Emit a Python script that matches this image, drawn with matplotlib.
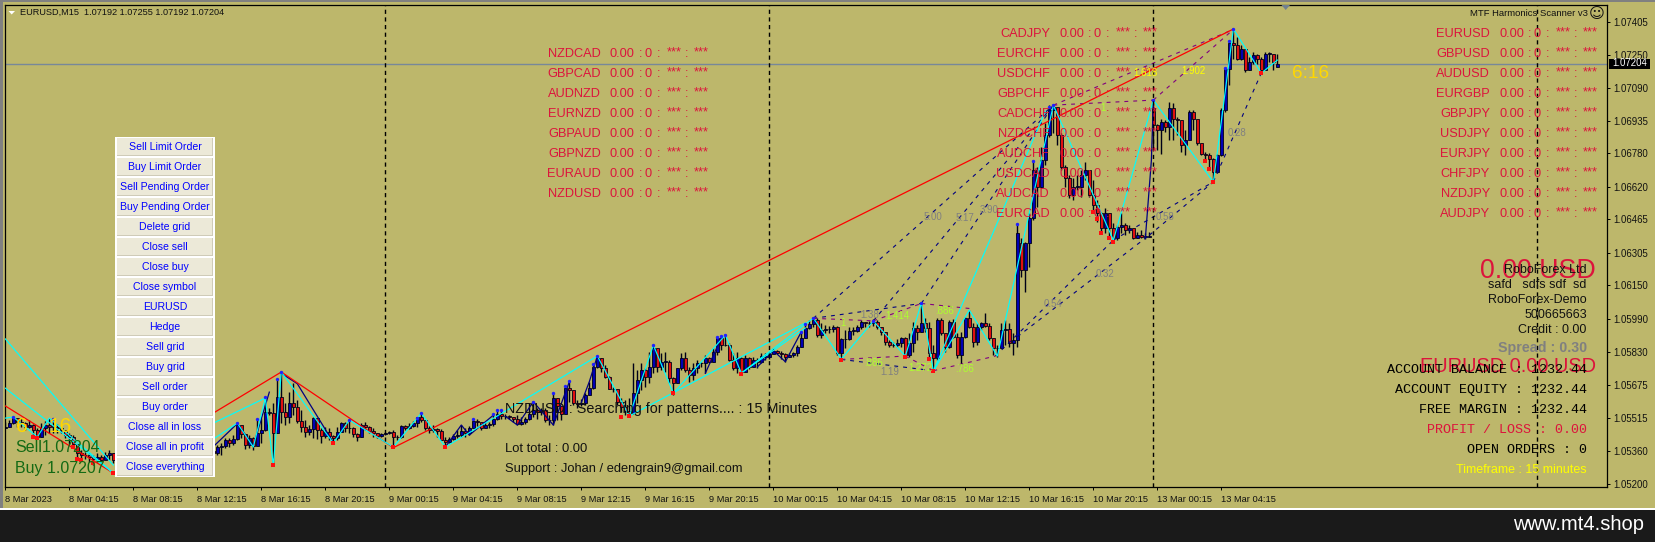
import matplotlib
matplotlib.use("Agg")
import numpy as np
import matplotlib.pyplot as plt
from matplotlib.patches import Rectangle, Polygon

W, H = 1655, 542
OLIVE = '#BDB76B'
CRIMSON = '#DC143C'

# candle data, in points above 1.00000 (5475 means 1.05475), one value per M15 bar
closes = [
    5475, 5491, 5515, 5499, 5491, 5475, 5483, 5459, 5428, 5467, 5483, 5475, 5475, 5467, 5459, 5435, 5428, 5391, 5348, 5340, 5340, 5332, 5321, 5332, 5316, 5340, 5348, 5316,
    5330, 5345, 5360, 5350, 5340, 5355, 5370, 5365, 5350, 5340, 5330, 5345, 5360, 5375, 5365, 5355, 5345, 5360, 5370, 5380, 5365, 5355, 5370, 5360, 5350,
    5376, 5383, 5411, 5396, 5416, 5483, 5440, 5388, 5419, 5383, 5443, 5459, 5547, 5539, 5446, 5618, 5547, 5520, 5586, 5570, 5504, 5475, 5451, 5462, 5515, 5459, 5430, 5451, 5430, 5419, 5451, 5491, 5467, 5467, 5440, 5424, 5483, 5475, 5456, 5446, 5430, 5440, 5443, 5451, 5427, 5424, 5478, 5467, 5480, 5491, 5520, 5507, 5467, 5459,
    5462, 5456, 5414, 5403, 5417, 5430, 5435, 5456, 5446, 5471, 5503, 5498, 5471, 5483, 5487, 5514, 5535, 5525, 5525, 5522, 5510, 5490, 5498, 5514, 5538, 5554, 5546, 5554, 5506, 5506, 5610, 5573, 5538, 5662, 5650, 5586, 5583, 5586, 5626, 5662, 5761, 5801, 5753, 5710, 5657, 5653, 5594, 5570,
    5552, 5539, 5634, 5698, 5745, 5714, 5761, 5849, 5761, 5785, 5785, 5706, 5682, 5753, 5801, 5745, 5722, 5753, 5777, 5777, 5801, 5785, 5833, 5897, 5865, 5865, 5793, 5753, 5801, 5738, 5801, 5761, 5793, 5785, 5812, 5806, 5822, 5838, 5828, 5822, 5806, 5817, 5825, 5857, 5897, 5944, 5965,
    5984, 5912, 5936, 5939, 5939, 5949, 5825, 5892, 5892, 5933, 5933, 5949, 5976, 5971, 5968, 5976, 5952, 5928, 5881, 5865, 5865, 5873, 5896, 5817, 5873, 5944, 5928, 5968, 5944, 5825, 5801, 5984, 5920, 5857, 5976, 5904, 5817, 5904, 5992, 5952, 5881, 5952, 5968, 5955, 5896, 5849, 5849, 5936, 5939, 5873, 5888,
    6397, 6222, 6350, 6469, 6699, 6620, 6747, 6866, 6986, 7002, 6866, 6715, 6660, 6580, 6620, 6620, 6676, 6699, 6580, 6532, 6493, 6421, 6493, 6421, 6373, 6429, 6437, 6413, 6421, 6373, 6389, 6381, 6381, 6385,
    6913, 6889, 6929, 6905, 6993, 6945, 6937, 6818, 6842, 6977, 6945, 6826, 6778, 6770, 6754, 6691, 6770, 6985, 7183, 7303, 7295, 7231, 7279, 7176, 7215, 7247, 7231, 7176, 7255, 7255, 7215, 7204,
]
highs = [
    5496, 5507, 5520, 5515, 5515, 5499, 5507, 5486, 5467, 5491, 5502, 5515, 5515, 5486, 5475, 5459, 5443, 5435, 5391, 5364, 5356, 5348, 5340, 5348, 5340, 5356, 5364, 5348,
    5345, 5360, 5372, 5368, 5355, 5370, 5385, 5380, 5366, 5352, 5345, 5360, 5375, 5390, 5380, 5370, 5360, 5375, 5385, 5395, 5382, 5370, 5385, 5375, 5365,
    5388, 5396, 5419, 5419, 5435, 5499, 5467, 5435, 5435, 5427, 5507, 5515, 5594, 5562, 5586, 5698, 5737, 5586, 5642, 5682, 5602, 5554, 5507, 5483, 5520, 5507, 5467, 5475, 5467, 5435, 5475, 5499, 5499, 5510, 5475, 5443, 5491, 5499, 5478, 5467, 5446, 5446, 5451, 5456, 5459, 5435, 5483, 5483, 5491, 5502, 5523, 5539, 5507, 5478,
    5483, 5467, 5462, 5427, 5427, 5440, 5459, 5483, 5467, 5478, 5506, 5510, 5490, 5498, 5498, 5530, 5554, 5554, 5538, 5530, 5522, 5530, 5522, 5519, 5586, 5594, 5562, 5562, 5562, 5530, 5634, 5610, 5570, 5669, 5694, 5642, 5602, 5605, 5634, 5689, 5774, 5812, 5801, 5769, 5716, 5665, 5657, 5610,
    5602, 5610, 5777, 5745, 5777, 5753, 5833, 5865, 5825, 5825, 5833, 5793, 5714, 5753, 5825, 5833, 5761, 5777, 5793, 5785, 5817, 5809, 5849, 5908, 5912, 5917, 5873, 5825, 5833, 5809, 5817, 5806, 5809, 5801, 5825, 5825, 5833, 5849, 5841, 5838, 5825, 5825, 5833, 5865, 5928, 5965, 5984,
    6000, 5992, 5968, 5960, 5955, 5960, 5955, 5896, 5936, 5952, 5952, 5960, 5984, 5976, 5981, 5987, 5984, 5952, 5928, 5888, 5881, 5892, 5904, 5904, 5920, 5976, 5960, 6063, 5992, 5976, 5865, 5992, 5992, 5912, 5984, 5987, 5920, 5928, 6000, 6032, 5968, 5968, 5976, 6019, 5968, 5896, 5865, 5968, 5984, 5968, 5920,
    6445, 6373, 6358, 6493, 6747, 6715, 6811, 6922, 7009, 7009, 6970, 6874, 6723, 6676, 6660, 6676, 6699, 6739, 6691, 6652, 6556, 6501, 6517, 6485, 6445, 6437, 6493, 6445, 6437, 6413, 6405, 6413, 6397, 6405,
    7032, 6921, 6945, 6937, 7024, 7017, 6953, 6905, 6889, 6985, 6985, 6905, 6818, 6786, 6781, 6759, 6778, 6997, 7191, 7319, 7374, 7334, 7295, 7271, 7239, 7263, 7255, 7239, 7263, 7263, 7231, 7255,
]
lows = [
    5470, 5475, 5486, 5475, 5475, 5459, 5467, 5420, 5416, 5428, 5435, 5443, 5443, 5443, 5443, 5420, 5391, 5372, 5321, 5316, 5321, 5308, 5292, 5305, 5292, 5321, 5316, 5300,
    5315, 5328, 5345, 5338, 5326, 5340, 5355, 5350, 5335, 5325, 5316, 5330, 5345, 5360, 5350, 5340, 5330, 5345, 5355, 5365, 5350, 5340, 5355, 5345, 5335,
    5340, 5340, 5372, 5376, 5388, 5411, 5419, 5367, 5372, 5364, 5403, 5396, 5456, 5531, 5292, 5446, 5491, 5483, 5491, 5531, 5491, 5451, 5424, 5435, 5419, 5415, 5396, 5419, 5411, 5396, 5411, 5451, 5451, 5446, 5427, 5407, 5424, 5459, 5443, 5424, 5422, 5424, 5435, 5440, 5376, 5411, 5419, 5459, 5462, 5475, 5475, 5499, 5459, 5446,
    5451, 5427, 5411, 5376, 5395, 5411, 5419, 5427, 5427, 5435, 5467, 5478, 5459, 5467, 5471, 5478, 5506, 5514, 5514, 5510, 5498, 5483, 5483, 5490, 5506, 5522, 5514, 5530, 5498, 5483, 5483, 5506, 5506, 5546, 5594, 5578, 5562, 5573, 5578, 5626, 5657, 5753, 5737, 5705, 5653, 5642, 5578, 5546,
    5531, 5523, 5536, 5586, 5650, 5666, 5682, 5730, 5738, 5745, 5738, 5682, 5626, 5682, 5745, 5738, 5690, 5698, 5730, 5761, 5730, 5777, 5785, 5817, 5841, 5860, 5790, 5745, 5730, 5730, 5738, 5749, 5769, 5753, 5780, 5793, 5796, 5825, 5822, 5796, 5785, 5806, 5809, 5812, 5854, 5897, 5939,
    5952, 5904, 5896, 5920, 5923, 5928, 5817, 5801, 5849, 5888, 5912, 5928, 5939, 5949, 5949, 5955, 5939, 5912, 5865, 5854, 5854, 5857, 5857, 5809, 5809, 5833, 5888, 5928, 5928, 5801, 5745, 5793, 5912, 5833, 5849, 5896, 5801, 5774, 5896, 5944, 5857, 5865, 5936, 5952, 5888, 5817, 5809, 5857, 5865, 5857, 5817,
    5857, 6191, 6119, 6238, 6461, 6524, 6612, 6723, 6858, 6874, 6819, 6699, 6620, 6564, 6556, 6604, 6572, 6652, 6572, 6493, 6453, 6405, 6397, 6373, 6365, 6365, 6397, 6389, 6397, 6369, 6373, 6373, 6370, 6378,
    6794, 6794, 6778, 6881, 6842, 6842, 6865, 6786, 6770, 6889, 6889, 6818, 6770, 6738, 6698, 6643, 6686, 6765, 6977, 7104, 7231, 7223, 7223, 7168, 7176, 7207, 7207, 7168, 7207, 7215, 7176, 7192,
]
first_open = 5470
open_gaps = {254: 6350, 287: 6993, 318: 7192}

# cyan zigzag legs, (bar, points)
cyan_main = [(0, 5516), (2, 5521), (8, 5426), (11, 5516), (27, 5254)]
cyan_body = [(52, 5416), (58, 5492), (62, 5378), (65, 5612), (67, 5292), (69, 5736), (82, 5397), (86, 5507), (97, 5378),
             (104, 5540), (110, 5378), (148, 5812), (156, 5526), (162, 5864), (167, 5635), (180, 5912), (184, 5731),
             (202, 5993), (209, 5798), (217, 5979), (225, 5812), (229, 6065), (232, 5740), (241, 6031), (248, 5812),
             (262, 7009), (277, 6365), (287, 7033), (302, 6642), (307, 7372), (314, 7162), (318, 7224)]
cyan_extra = [[(0, 5894), (27, 5292)], [(0, 5659), (27, 5254)], [(52, 5492), (65, 5612)], [(156, 5526), (200, 5970)],
              [(184, 5731), (200, 5946)], [(232, 5740), (260, 6980)]]
red_zigzag = [(0, 5574), (27, 5254), (52, 5540), (69, 5736), (97, 5375), (307, 7372)]
navy_legs = [[(52, 5380), (58, 5490), (62, 5385), (66, 5640)], [(69, 5730), (73, 5680), (82, 5400)],
             [(110, 5378), (114, 5483), (116, 5435), (122, 5530)], [(125, 5525), (128, 5483), (132, 5594), (137, 5483), (141, 5689)],
             [(144, 5590), (146, 5690), (148, 5812)], [(175, 5730), (179, 5900)], [(188, 5760), (192, 5838), (195, 5785), (199, 5928)],
             [(285, 6375), (286.5, 6745), (287, 7033)]]

# harmonic pattern pivots, (bar, points)
piv = dict(A=(202, 5992), B=(209, 5796), C=(217, 5980), D=(225, 5812), E=(229, 6063), F=(232, 5742), G=(241, 6039),
           H=(247.5, 5812), J=(253, 5904), K=(262, 7009), L=(277, 6365), M=(286, 6389), N=(287, 7033), O=(302, 6643),
           P=(307, 7370), Q=(314, 7163))
navy_dash = ['AK', 'CK', 'EK', 'JM', 'HL', 'LO', 'MO', 'OQ', 'AE', 'BF']
purple_dash = ['AC', 'CE', 'EG', 'BD', 'DF', 'FH', 'KN', 'KP', 'NP']

blue_dots = [(2, 5520), (12, 5510), (58, 5491), (63, 5510), (65, 5615), (68, 5701), (69, 5737), (86, 5507), (103, 5515), (104, 5539),
             (117, 5510), (122, 5535), (123, 5554), (124, 5554), (132, 5594), (137, 5634), (140, 5669), (141, 5694), (147, 5774), (148, 5812),
             (162, 5865), (178, 5904), (179, 5908), (180, 5912), (199, 5928), (200, 5965), (202, 5992), (217, 5980), (229, 6066),
             (253, 6442), (257, 6744), (261, 6998), (262, 7009), (287, 7033), (305, 7184), (306, 7316), (307, 7370)]
red_dots = [(7, 5428), (8, 5423), (17, 5380), (18, 5321), (19, 5316), (22, 5300), (27, 5253), (67, 5292), (82, 5395), (97, 5376),
            (110, 5376), (154, 5522), (156, 5526), (167, 5634), (184, 5727), (209, 5793), (225, 5809), (231, 5796), (232, 5740),
            (272, 6497), (273, 6464), (274, 6397), (276, 6373), (277, 6357), (300, 6742), (301, 6704), (302, 6643), (314, 7163)]

y_ticks = [1.07405, 1.07250, 1.07090, 1.06935, 1.06780, 1.06620, 1.06465, 1.06305, 1.06150, 1.05990, 1.05830, 1.05675, 1.05515, 1.05360, 1.05200]
x_labels = ['8 Mar 2023', '8 Mar 04:15', '8 Mar 08:15', '8 Mar 12:15', '8 Mar 16:15', '8 Mar 20:15',
            '9 Mar 00:15', '9 Mar 04:15', '9 Mar 08:15', '9 Mar 12:15', '9 Mar 16:15', '9 Mar 20:15',
            '10 Mar 00:15', '10 Mar 04:15', '10 Mar 08:15', '10 Mar 12:15', '10 Mar 16:15', '10 Mar 20:15',
            '13 Mar 00:15', '13 Mar 04:15']
day_lines = [95, 191, 287, 383]
last_price = 1.07204

buttons = ['Sell Limit Order', 'Buy Limit Order', 'Sell Pending Order', 'Buy Pending Order', 'Delete grid', 'Close sell',
           'Close buy', 'Close symbol', 'EURUSD', 'Hedge', 'Sell grid', 'Buy grid', 'Sell order', 'Buy order',
           'Close all in loss', 'Close all in profit', 'Close everything']
pairs_left = ['NZDCAD', 'GBPCAD', 'AUDNZD', 'EURNZD', 'GBPAUD', 'GBPNZD', 'EURAUD', 'NZDUSD']
pairs_mid = ['CADJPY', 'EURCHF', 'USDCHF', 'GBPCHF', 'CADCHF', 'NZDCHF', 'AUDCHF', 'USDCAD', 'AUDCAD', 'EURCAD']
pairs_right = ['EURUSD', 'GBPUSD', 'AUDUSD', 'EURGBP', 'GBPJPY', 'USDJPY', 'EURJPY', 'CHFJPY', 'NZDJPY', 'AUDJPY']

gray_labels = [('5.00', 460, 650), ('5.17', 555, 653), ('3.90', 627, 630), ('1.38', 268, 945), ('1.19', 328, 1115),
               ('0.54', 820, 913), ('0.32', 975, 823), ('0.58', 1155, 650), ('0.28', 1372, 398)]
lime_labels = [('1.414', 352, 948), ('.886', 495, 932), ('.886', 280, 1090), ('1.272', 420, 1105), ('.786', 555, 1108),
               ('1', 190, 970), ('1', 968, 325)]
yellow_labels = [('1.902', 1240, 212), ('1.618', 1095, 218)]


def price(v):
    return 1 + np.asarray(v, dtype=float) / 100000


def px(x):
    return x / W


def py(y):
    return 1 - y / H


def ftext(x, y, s, **kw):
    kw.setdefault('va', 'center')
    kw.setdefault('family', ['Liberation Sans', 'DejaVu Sans'])
    return fig.text(px(x), py(y), s, **kw)


def frect(x0, y0, x1, y1, color, z=1):
    fig.add_artist(Rectangle((px(x0), py(y1)), (x1 - x0) / W, (y1 - y0) / H, transform=fig.transFigure,
                             facecolor=color, edgecolor='none', zorder=z))


def pair_rows(names, right, top):
    for k, name in enumerate(names):
        y = top + 20 * k + 0.8
        ftext(right, y, name, color=CRIMSON, fontsize=9.2, ha='right')
        ftext(right + 9, y, '0.00', color=CRIMSON, fontsize=9.2)
        ftext(right + 40, y, ':', color=CRIMSON, fontsize=9.2, ha='center')
        ftext(right + 47, y, '0', color=CRIMSON, fontsize=9.2, ha='center')
        ftext(right + 58, y, ':', color=CRIMSON, fontsize=9.2, ha='center')
        ftext(right + 66, y - 2, '***', color=CRIMSON, fontsize=9.2)
        ftext(right + 86, y, ':', color=CRIMSON, fontsize=9.2, ha='center')
        ftext(right + 93, y - 2, '***', color=CRIMSON, fontsize=9.2)


fig = plt.figure(figsize=(W / 100, H / 100), dpi=100, facecolor=OLIVE)
frect(0, 0, W, 1.5, '#808080', z=-1)
frect(0, 0, 2.5, 509, '#808080', z=-1)
frect(0, 508, W, 510, '#ffffff', z=-1)
frect(0, 510, W, H, '#1a1a1a', z=-1)

ax = fig.add_axes([px(4.7), py(487.3), (1607 - 4.7) / W, (487.3 - 4.5) / H], facecolor=OLIVE)
ax.set_xlim(-0.15, 400.4)
ax.set_ylim(1.05186, 1.07489)

# candles
idx = np.arange(len(closes))
opens = [first_open] + closes[:-1]
for k, v in open_gaps.items():
    opens[k] = v
o = price(opens)
c = price(closes)
ax.vlines(idx, price(lows), price(highs), color='#000018', lw=1.0, zorder=2)
up = c >= o
ax.bar(idx[up], np.maximum(c[up] - o[up], 0.00002), bottom=o[up], width=0.8, color='#0000b4', edgecolor='#000018', lw=0.6, zorder=2.2)
ax.bar(idx[~up], o[~up] - c[~up], bottom=c[~up], width=0.8, color='#e01010', edgecolor='#000018', lw=0.6, zorder=2.2)


def draw_leg(points, **kw):
    xs = [p[0] for p in points]
    ys = price([p[1] for p in points])
    ax.plot(xs, ys, **kw)


for leg in navy_legs:
    draw_leg(leg, color='#000080', lw=0.9, zorder=3)
for name in navy_dash:
    draw_leg([piv[name[0]], piv[name[1]]], color='#000080', lw=0.8, ls=(0, (3.5, 4.5)), zorder=3)
for name in purple_dash:
    draw_leg([piv[name[0]], piv[name[1]]], color='#800080', lw=0.8, ls=(0, (3.5, 4.5)), zorder=3)
draw_leg(red_zigzag, color='#ff0000', lw=0.9, zorder=3.1)
draw_leg(cyan_main, color='#00ffff', lw=0.85, zorder=3.2)
draw_leg(cyan_body, color='#00ffff', lw=0.85, zorder=3.2)
for leg in cyan_extra:
    draw_leg(leg, color='#00ffff', lw=0.85, zorder=3.2)

ax.scatter([p[0] for p in blue_dots], price([p[1] for p in blue_dots]), s=6, color='#2020ff', marker='o', lw=0, zorder=3.5)
ax.scatter([p[0] for p in red_dots], price([p[1] for p in red_dots]), s=6, color='#ff1010', marker='s', lw=0, zorder=3.5)

ax.axhline(last_price, color='#778899', lw=1.0, zorder=1.5)
for d in day_lines:
    ax.axvline(d, color='black', lw=1.0, ls=(0, (3, 2.5)), zorder=3.8)

ax.set_xticks(np.arange(len(x_labels)) * 16)
ax.set_xticklabels(x_labels, ha='left', fontsize=6.7, family='Liberation Sans', color='#111111')
ax.tick_params(axis='x', length=2.2, width=0.7, pad=3.5)
ax.yaxis.tick_right()
ax.set_yticks(y_ticks)
ax.set_yticklabels([f'{t:.5f}' for t in y_ticks], fontsize=6.9, family='Liberation Sans', color='#111111')
ax.tick_params(axis='y', length=2.2, width=0.7, pad=2.5)
for s in ax.spines.values():
    s.set_linewidth(0.9)

# current price flag, top markers
frect(1609, 58.5, 1650, 68.5, 'black', z=2)
ftext(1630, 63.5, '1.07204', color='white', fontsize=6.9, ha='center')
fig.add_artist(Polygon([(px(1281.5), py(5)), (px(1290), py(5)), (px(1285.7), py(10))], transform=fig.transFigure, facecolor='#708090', edgecolor='none', zorder=2))
fig.add_artist(Polygon([(px(8.5), py(11)), (px(15), py(11)), (px(11.7), py(14.5))], transform=fig.transFigure, facecolor='white', edgecolor='none', zorder=2))
ftext(20.5, 12.5, 'EURUSD,M15  1.07192 1.07255 1.07192 1.07204', fontsize=6.6, color='#111111')

# button panel
for k, label in enumerate(buttons):
    y0 = 137 + 20 * k
    frect(115, y0, 215, y0 + 20, 'white', z=2)
    frect(116.5, y0 + 1, 213, y0 + 19, '#cfcbb8', z=2.1)
    frect(116.5, y0 + 1, 212, y0 + 17.5, '#ece9d8', z=2.2)
    ftext(165, y0 + 10, label, color='#0000ff', fontsize=7.6, ha='center')

pair_rows(pairs_left, 601, 53.3)
pair_rows(pairs_mid, 1050, 33.3)
pair_rows(pairs_right, 1490, 33.3)

# ratio labels, placed from pixel readings of the pattern labels
for lab, zx, zy in gray_labels:
    ftext(780 + zx / 3, zy / 3, lab, color='#808080', fontsize=7, ha='center')
for lab, zx, zy in lime_labels:
    ftext(780 + zx / 3, zy / 3, lab, color='#adff2f', fontsize=7, ha='center')
for lab, zx, zy in yellow_labels:
    ftext(780 + zx / 3, zy / 3, lab, color='#ffff00', fontsize=7, ha='center')

ftext(1292, 73, '6:16', color='#ffd700', fontsize=13.7)
ftext(16, 426, '6', color='#ffd700', fontsize=15)
ftext(48, 426, '16', color='#ffd700', fontsize=15)
ftext(15, 448, 'Sell1.07204', color='#146a14', fontsize=11.5)
ftext(15, 468, 'Buy 1.07207', color='#146a14', fontsize=11.5)

ftext(505, 409, 'NZDUSD : Searching for patterns.... : 15 Minutes', color='#111111', fontsize=10.35)
ftext(505, 449, 'Lot total : 0.00', color='#111111', fontsize=9.4)
ftext(505, 469, 'Support : Johan / edengrain9@gmail.com', color='#111111', fontsize=9.3)

# account panel
ftext(1588, 13.5, 'MTF Harmonics Scanner v3', color='#111111', fontsize=6.8, ha='right')
ftext(1597, 13.5, '\u263a', color='#111111', fontsize=11, ha='center', family='DejaVu Sans')
ftext(1596, 271, '0.00 USD', color=CRIMSON, fontsize=19.3, ha='right')
ftext(1596, 367, 'EURUSD 0.00 USD', color=CRIMSON, fontsize=14.4, ha='right')
for y, s in [(270, 'RoboForex Ltd'), (285, 'safd   sdfs sdf  sd'), (300, 'RoboForex-Demo'), (315, '500665663'), (330, 'Credit : 0.00')]:
    ftext(1586.7, y, s, color='#111111', fontsize=9, ha='right')
ftext(1586.7, 348, 'Spread : 0.30', color='#808080', fontsize=10.3, ha='right', fontweight='bold')
for y, s, col in [(370, 'ACCOUNT BALANCE : 1232.44', 'black'), (390, 'ACCOUNT EQUITY : 1232.44', 'black'), (410, 'FREE MARGIN : 1232.44', 'black'),
                  (430, 'PROFIT / LOSS : 0.00', CRIMSON), (450, 'OPEN ORDERS : 0', 'black')]:
    ftext(1586.7, y, s, color=col, fontsize=9.6, ha='right', family='Liberation Mono')
ftext(1586.7, 470, 'Timeframe : 15 minutes', color='#ffff00', fontsize=9, ha='right')

ftext(1644, 525, 'www.mt4.shop', color='white', fontsize=14.5, ha='right')

fig.savefig('out.png', dpi=100, facecolor=fig.get_facecolor())
